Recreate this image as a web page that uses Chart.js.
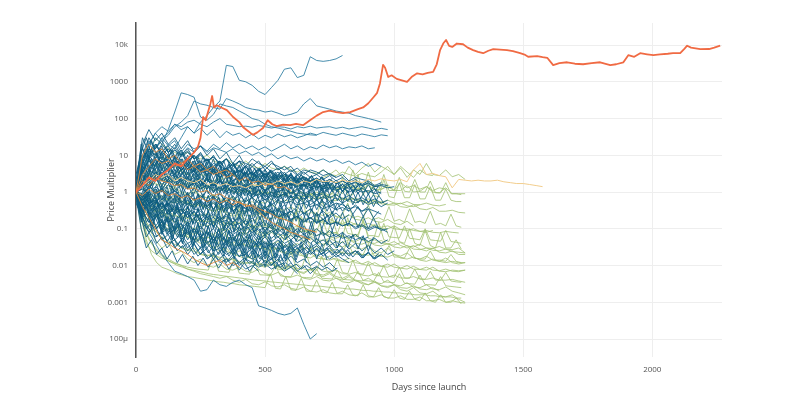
<!DOCTYPE html>
<html lang="en">
<head>
    <meta charset="UTF-8">
    <title>Price Multiplier since launch</title>
    <script src="https://cdn.jsdelivr.net/npm/chart.js@4.4.0/dist/chart.umd.min.js"></script>
    <style>
        * {
            margin: 0;
            padding: 0;
            box-sizing: border-box;
        }

        body {
            background: #fff;
            width: 800px;
            height: 396px;
            overflow: hidden;
        }

        .chart-box {
            width: 800px;
            height: 396px;
        }
    </style>
</head>
<body>
    <div class="chart-box">
        <canvas id="priceChart" width="800" height="396"></canvas>
    </div>

    <script>
        // days between two samples of the coin lines (red line has its own days)
        const STEP_DAYS = 25;
        const FINE_STEP_DAYS = 20;

        const xTicks = [0, 500, 1000, 1500, 2000];
        const yTickValues = [0.0001, 0.001, 0.01, 0.1, 1, 10, 100, 1000, 10000];
        const yTickLabels = ['100μ', '0.001', '0.01', '0.1', '1', '10', '100', '1000', '10k'];

        // the stand-out coin
        const redDays = [0, 25, 50, 75, 100, 125, 150, 175, 200, 225, 240, 250, 260, 270, 279, 288, 295, 302, 313, 330,
            352, 376, 400, 415, 435, 453, 470, 492, 510, 528, 545, 570, 597, 620, 647, 674, 700, 725, 750, 775,
            802, 830, 860, 880, 900, 920, 934, 945, 957, 965, 977, 990, 1010, 1030, 1050, 1070, 1089, 1110, 1130, 1151,
            1165, 1178, 1190, 1201, 1213, 1225, 1243, 1267, 1285, 1306, 1325, 1345, 1365, 1384, 1410, 1437, 1460, 1488, 1505, 1519,
            1554, 1575, 1593, 1616, 1640, 1670, 1700, 1732, 1765, 1798, 1837, 1860, 1888, 1907, 1930, 1953, 1980, 2004, 2030, 2060,
            2080, 2108, 2125, 2135, 2150, 2186, 2220, 2240, 2263];
        const redValues = [1, 1.5, 2.5, 2, 3, 4, 6, 5, 8, 12, 17, 30, 110, 90, 150, 250, 410, 200, 230, 200,
            170, 110, 80, 58, 45, 36, 42, 55, 90, 70, 62, 68, 66, 72, 66, 90, 120, 150, 165, 150,
            140, 150, 180, 200, 260, 380, 500, 900, 2900, 2400, 1350, 1500, 1200, 1100, 1000, 1400, 1700, 1600, 1750, 1850,
            3000, 7300, 11000, 13700, 9500, 8900, 11000, 10500, 8500, 7300, 6500, 6000, 7000, 7700, 7500, 7300, 6800, 6000, 5500, 4800,
            5000, 4700, 4500, 2850, 3200, 3400, 3100, 3000, 3200, 3400, 2850, 3000, 3400, 5300, 4800, 6000, 5600, 5300, 5600, 5800,
            6000, 6000, 8000, 9600, 8500, 7700, 7800, 8500, 9600];

        const yellowValues = [1, 1.5, 2, 3, 2.5, 3, 2, 2.5, 2, 1.8, 2.2, 1.6, 1.8, 1.5, 1.7, 1.4, 1.5, 1.3, 1.6, 1.5,
            1.8, 1.6, 2, 1.7, 1.9, 1.6, 2, 1.8, 2.2, 1.9, 2, 1.8, 2.1, 1.9, 2, 1.8, 2.2, 2, 2.3, 2.1,
            2, 2.2, 1.9, 4, 6, 3, 3.2, 2.8, 2.6, 1.3, 2.2, 2.1, 2, 2.1, 2, 2, 2.1, 1.9, 1.8, 1.7,
            1.7, 1.6, 1.5, 1.4];

        const orangeLines = [
            [1, 0.8, 1.2, 0.9, 1.1, 0.8, 0.9, 0.7, 0.8, 0.6, 0.7, 0.55, 0.65, 0.5, 0.6, 0.45, 0.55, 0.4, 0.45, 0.35, 0.3, 0.25, 0.2, 0.18, 0.15, 0.12, 0.1, 0.09, 0.08],
            [1, 3, 5, 8, 6, 7, 5, 6, 4, 5, 3.5, 4, 3, 3.5, 2.5, 3, 2, 2.5, 1.8, 2, 1.5, 1.7, 1.3, 1.4, 1.1],
            [1, 0.4, 0.2, 0.1, 0.05, 0.04, 0.03, 0.025, 0.02, 0.015, 0.012, 0.01, 0.012, 0.014, 0.01, 0.012, 0.009],
            [1, 2, 1.5, 2.5, 2, 1.8, 1.5, 1.6, 1.2, 1.3, 1, 1.1, 0.8, 0.9, 0.7, 0.6, 0.5, 0.45, 0.4, 0.3, 0.2, 0.15, 0.12, 0.1, 0.08, 0.07, 0.06, 0.05],
            [1, 10, 20, 12, 15, 8, 10, 6, 8, 5, 6, 4, 5, 3.5, 4, 3]
        ];

        // teal coins that climbed far above (or fell far below) the pack
        const tealHighLines = [
            [1, 3, 8, 5, 12, 20, 15, 30, 60, 40, 80, 120, 200, 300, 2800, 2600, 1100, 1000, 800, 550, 450, 700, 1100, 2200, 2400, 1300, 1500, 4800, 3800, 3600, 3800, 4200, 5200],
            [1, 4, 10, 30, 20, 50, 150, 500, 450, 380, 110, 90, 130, 250, 220, 200, 160, 130, 100, 90, 70, 60, 55, 50, 45, 40, 38, 36, 35],
            [1.2, 5, 20, 40, 25, 35, 60, 80, 120, 300, 250, 230, 200, 180, 350, 300, 250, 200, 180, 170, 150, 160, 140, 120, 130, 150, 250, 350, 220, 200, 180, 160, 150, 140, 120, 110, 100, 90, 80],
            [0.8, 3, 10, 15, 30, 40, 70, 60, 80, 90, 70, 60, 80, 100, 70, 65, 60, 62, 58, 65, 60, 55, 60, 58, 52, 60, 56, 62, 55, 58, 60, 54, 58, 52, 56, 60, 55, 50, 54, 50],
            [1, 6, 20, 40, 60, 45, 70, 50, 60, 40, 55, 35, 50, 30, 45, 35, 40, 30, 38, 28, 35, 30, 38, 32, 36, 30, 34, 40, 36, 42, 38, 35, 40, 36, 33, 38, 35, 32, 36, 34],
            [1.5, 8, 25, 15, 30, 18, 25, 12, 20, 15, 18, 12, 16, 14, 12, 15, 11, 13, 10, 12, 9, 11, 8, 10, 8, 9, 7, 8.5, 7, 8, 6.5, 7.5, 6, 7, 5.5, 6.5, 5, 6, 5],
            [1, 2, 5, 8, 12, 9, 14, 10, 16, 12, 18, 13, 20, 15, 22, 16, 20, 15, 18, 14, 17, 13, 16, 20, 15, 18, 14, 17, 15, 19, 16, 18, 15, 17, 16, 18, 15, 16],
            [1, 0.2, 0.08, 0.04, 0.02, 0.012, 0.007, 0.006, 0.005, 0.004, 0.002, 0.0022, 0.004, 0.003, 0.0027, 0.0035, 0.004, 0.003, 0.0025, 0.0008, 0.0007, 0.0006, 0.0005, 0.00045, 0.0005, 0.0007, 0.00025, 0.0001, 0.00014]
        ];

        const tealLines = [
            [1, 6, 12, 8, 15, 10, 14, 9, 12, 8, 10, 7, 9, 6, 8, 5, 7, 6, 5, 7, 4, 6, 5, 4, 5, 3, 4, 3.5, 3, 4, 3, 2.5, 3, 2, 2.5, 2.2, 2],
            [1, 0.6, 0.8, 0.4, 0.5, 0.3, 0.4, 0.25, 0.3, 0.2, 0.25, 0.18, 0.2, 0.15, 0.17, 0.12, 0.14, 0.1, 0.12, 0.09, 0.11, 0.08, 0.1, 0.07, 0.09, 0.06, 0.07, 0.05],
            [1, 2, 1.5, 3, 2, 2.5, 1.8, 2.2, 1.4, 1.8, 1.2, 1.5, 1, 1.3, 0.9, 1.1, 0.8, 1, 0.7, 0.9, 0.6, 0.8, 0.7, 0.9, 0.6, 0.7, 0.5, 0.6, 0.45, 0.55, 0.4, 0.5, 0.45, 0.35, 0.4, 0.3, 0.35, 0.3, 0.25],
            [1, 0.3, 0.15, 0.2, 0.08, 0.1, 0.05, 0.07, 0.04, 0.05, 0.03, 0.04, 0.025, 0.03, 0.02, 0.025, 0.018, 0.02, 0.015, 0.02, 0.012, 0.015, 0.01, 0.012],
            [0.8, 3, 8, 20, 12, 18, 9, 14, 7, 10, 6, 8, 5, 7, 4, 6, 3.5, 5, 3, 4, 2.5, 3.5, 2, 3, 2.5, 2, 1.5, 2, 1.8, 1.4, 1.6, 1.2],
            [1.2, 0.7, 1.5, 0.9, 1.2, 0.6, 0.9, 0.5, 0.8, 0.45, 0.6, 0.4, 0.55, 0.35, 0.5, 0.3, 0.45, 0.35, 0.3, 0.4, 0.25, 0.3, 0.2, 0.28, 0.18, 0.22, 0.15, 0.2, 0.14, 0.18, 0.13, 0.15, 0.12, 0.14, 0.1, 0.12, 0.09, 0.11, 0.1, 0.08],
            [1, 4, 2, 6, 3, 5, 2.5, 4, 2, 3, 1.5, 2.5, 1.2, 2, 1, 1.6, 0.8, 1.3, 0.7, 1.1, 0.6, 0.9, 0.5],
            [1, 0.5, 0.25, 0.35, 0.15, 0.2, 0.1, 0.14, 0.08, 0.1, 0.06, 0.08, 0.05, 0.07, 0.04, 0.06, 0.035, 0.05, 0.03, 0.045, 0.03, 0.04, 0.025, 0.035, 0.02, 0.03, 0.02, 0.025, 0.018, 0.022, 0.015, 0.02, 0.015, 0.012],
            [1.5, 10, 30, 15, 25, 12, 20, 10, 15, 8, 12, 6, 10, 5, 8, 4, 7, 3, 5, 3, 4, 2.5, 3.5, 2, 3, 1.8, 2.5, 1.5, 2, 1.2, 1.6],
            [1, 1.5, 0.8, 1.2, 0.6, 1, 0.5, 0.8, 0.45, 0.7, 0.4, 0.6, 0.35, 0.55, 0.3, 0.5, 0.28, 0.4, 0.25, 0.35, 0.22, 0.3, 0.2, 0.25, 0.18, 0.22, 0.16, 0.2, 0.15, 0.18, 0.13, 0.15, 0.12, 0.14, 0.11, 0.13, 0.1, 0.12, 0.09, 0.1],
            [1, 0.2, 0.1, 0.06, 0.08, 0.04, 0.05, 0.03, 0.04, 0.02, 0.03, 0.015, 0.02, 0.012, 0.015, 0.01, 0.012, 0.008, 0.01, 0.007],
            [1, 3, 5, 4, 8, 5, 6, 4, 5, 3, 4, 3, 3.5, 2.5, 3, 2, 2.5, 2, 2.2, 1.8, 2, 1.6, 1.8, 1.5, 1.7, 1.4, 1.6, 1.3, 1.5, 1.2, 1.4, 1.1, 1.3, 1, 1.2, 1, 1.1, 0.9, 1],
            [0.7, 0.4, 0.6, 0.3, 0.5, 0.25, 0.4, 0.3, 0.5, 0.35, 0.6, 0.4, 0.7, 0.45, 0.6, 0.4, 0.5, 0.35, 0.45, 0.3, 0.4, 0.28, 0.35, 0.25, 0.3],
            [1, 2, 4, 3, 7, 5, 9, 6, 8, 5, 7, 4, 6, 5, 4, 6, 3.5, 5, 3, 4, 3, 3.5, 2.5, 3, 2.8, 2.2, 2.6, 2, 2.4, 1.8, 2.2, 1.7, 2, 1.6, 1.8, 1.5, 1.7, 1.4, 1.5, 1.3, 1.4],
            [1, 0.9, 0.5, 0.7, 0.35, 0.5, 0.25, 0.35, 0.2, 0.3, 0.15, 0.22, 0.12, 0.18, 0.1, 0.15, 0.09, 0.12, 0.08, 0.1, 0.07, 0.09, 0.06, 0.08, 0.05, 0.07, 0.045, 0.06, 0.04, 0.05, 0.035, 0.045, 0.03],
            [2, 20, 50, 25, 40, 20, 30, 15, 25, 12, 18, 10, 15, 8, 12, 6, 10, 5, 8, 6, 5, 7, 4, 5, 3.5, 4.5, 3, 4, 3.5, 2.8, 3.2, 2.5],
            [1, 0.6, 1, 0.7, 1.2, 0.8, 1.1, 0.7, 0.9, 0.6, 0.8, 0.55, 0.75, 0.5, 0.7, 0.6, 0.8, 0.55, 0.7, 0.5, 0.65, 0.45, 0.6, 0.5, 0.55, 0.45, 0.5, 0.4, 0.45, 0.35, 0.42, 0.33, 0.38, 0.3],
            [1, 0.15, 0.08, 0.12, 0.05, 0.07, 0.03, 0.05, 0.025, 0.04, 0.02, 0.03, 0.015, 0.025, 0.012, 0.02, 0.01, 0.015, 0.012, 0.009, 0.011, 0.008, 0.01, 0.007, 0.009, 0.006],
            [1, 2, 3, 2, 4, 2.5, 3, 2, 2.5, 1.5, 2, 1.2, 1.8, 1, 1.5, 0.9, 1.3, 0.8, 1.1, 0.7, 1, 0.6, 0.9, 0.55, 0.8, 0.5, 0.7, 0.45, 0.6, 0.4, 0.55, 0.35, 0.5, 0.3, 0.45, 0.3, 0.4],
            [1.2, 5, 3, 8, 4, 6, 3, 5, 2.5, 4, 2, 3, 1.5, 2.5, 1.2, 2, 1, 1.5, 0.8, 1.2, 0.7, 1, 0.6, 0.8],
            [0.9, 0.45, 0.7, 0.35, 0.55, 0.3, 0.45, 0.25, 0.4, 0.22, 0.35, 0.2, 0.3, 0.18, 0.25, 0.15, 0.22, 0.13, 0.2, 0.12, 0.17, 0.1, 0.15, 0.09, 0.13, 0.08, 0.12, 0.07, 0.1, 0.065, 0.09, 0.06, 0.08, 0.055, 0.07, 0.05, 0.06],
            [1, 1.8, 1.2, 2.5, 1.6, 2.2, 1.5, 2, 1.3, 1.8, 1.2, 1.6, 1.1, 1.4, 1, 1.3, 0.9, 1.2, 0.85, 1.1, 0.8, 1, 0.75, 0.9, 0.7, 0.85, 0.65, 0.8, 0.6, 0.75, 0.55, 0.7, 0.5, 0.65, 0.5, 0.6, 0.45, 0.55, 0.4, 0.5],
            [1, 0.5, 0.3, 0.4, 0.2, 0.3, 0.15, 0.25, 0.12, 0.2, 0.1, 0.15, 0.12, 0.08, 0.1, 0.07, 0.09, 0.06, 0.08, 0.05, 0.07, 0.045, 0.06, 0.04, 0.05, 0.035, 0.045, 0.03, 0.04, 0.025, 0.035, 0.022, 0.03, 0.02, 0.025, 0.018, 0.022, 0.016, 0.02],
            [1, 8, 15, 10, 20, 12, 16, 10, 13, 8, 11, 7, 9, 6, 8, 5, 7, 4.5, 6, 4, 5, 3.5, 4.5, 3, 4, 2.8, 3.5, 2.5, 3, 2.2, 2.8, 2, 2.5, 1.8, 2.2, 1.6, 2, 1.5, 1.8],
            [1, 0.8, 0.5, 0.6, 0.4, 0.5, 0.3, 0.4, 0.25, 0.35, 0.3, 0.2, 0.25, 0.18, 0.22, 0.15, 0.2, 0.13, 0.17],
            [1, 3, 1.5, 2.5, 1.2, 2, 1, 1.6, 0.8, 1.3, 0.7, 1.1, 0.6, 0.9, 0.5, 0.8, 0.45, 0.7, 0.4, 0.6, 0.35, 0.5, 0.3, 0.45, 0.28, 0.4, 0.25, 0.35, 0.22, 0.3, 0.2, 0.27, 0.18, 0.24],
            [1, 0.3, 0.5, 0.2, 0.3, 0.15, 0.2, 0.1, 0.15, 0.08, 0.12, 0.07, 0.1, 0.06, 0.09, 0.05, 0.08, 0.045, 0.07, 0.04, 0.06, 0.035, 0.05, 0.03, 0.045, 0.028, 0.04, 0.025, 0.035, 0.022, 0.03, 0.02, 0.028, 0.018, 0.025, 0.016, 0.022, 0.015, 0.02, 0.014],
            [1, 5, 10, 6, 9, 5, 7, 4, 6, 3.5, 5, 3, 4, 2.5, 3.5, 2, 3, 1.8, 2.5, 1.6, 2.2, 1.4, 2, 1.3, 1.8, 1.2, 1.6, 1.1, 1.4, 1, 1.3],
            [1, 1.2, 0.9, 1.4, 1, 1.6, 1.1, 1.8, 1.2, 2, 1.4, 2.2, 1.5, 2, 1.4, 1.8, 1.3, 1.6, 1.2, 1.5, 1.1, 1.4, 1, 1.2, 0.9, 1.1, 0.8, 1, 0.75, 0.9, 0.7, 0.85, 0.65, 0.8, 0.6, 0.7, 0.55, 0.65, 0.5, 0.6],
            [0.5, 0.2, 0.3, 0.12, 0.18, 0.08, 0.12, 0.06, 0.09, 0.05, 0.07, 0.04, 0.06, 0.03, 0.05, 0.025, 0.04, 0.02, 0.03, 0.018, 0.025, 0.015, 0.02, 0.013, 0.018, 0.012, 0.015, 0.01, 0.013, 0.009, 0.012, 0.008],
            [1, 2.5, 1.8, 3.5, 2.2, 3, 2, 2.8, 1.8, 2.5, 1.6, 2.2, 1.5, 2, 1.4, 1.8, 1.3, 1.7, 1.2, 1.5, 1.1, 1.4, 1, 1.3, 0.95, 1.2, 0.9, 1.1, 0.85, 1],
            [1, 0.7, 0.4, 0.55, 0.3, 0.45, 0.25, 0.35, 0.2, 0.3, 0.18, 0.25, 0.15, 0.22, 0.13, 0.2, 0.12, 0.17, 0.1, 0.15, 0.09, 0.13, 0.08, 0.11, 0.075, 0.1, 0.07, 0.09, 0.065, 0.08, 0.06, 0.07, 0.055, 0.065, 0.05, 0.06, 0.045, 0.055, 0.04, 0.05],
            [3, 15, 8, 12, 6, 10, 5, 8, 4, 7, 3.5, 6, 3, 5, 2.5, 4, 2.2, 3.5, 2, 3, 1.8, 2.6, 1.6, 2.3, 1.5, 2, 1.4, 1.8, 1.3, 1.6, 1.2, 1.5, 1.1, 1.4, 1, 1.3, 0.95, 1.2, 0.9],
            [1, 0.4, 0.2, 0.1, 0.15, 0.07, 0.1, 0.05, 0.08, 0.04, 0.06, 0.03, 0.05, 0.025, 0.04, 0.02, 0.03, 0.015, 0.025, 0.012, 0.02, 0.01, 0.015, 0.008, 0.012, 0.007, 0.01, 0.006, 0.009],
            [1, 1.5, 2.5, 2, 3.5, 2.5, 4, 3, 5, 3.5, 6, 4, 5, 3.5, 4.5, 3, 4, 2.8, 3.5, 2.5, 3.2, 2.3, 3, 2.2, 2.8, 2, 2.6, 1.9, 2.4, 1.8, 2.2, 1.7, 2, 1.6, 1.9, 1.5, 1.8, 1.4, 1.6, 1.5],
            [0.8, 0.3, 0.15, 0.25, 0.12, 0.18, 0.09, 0.14, 0.07, 0.1, 0.06, 0.09, 0.05, 0.08, 0.045, 0.07, 0.04, 0.06, 0.05, 0.035, 0.045, 0.03, 0.04, 0.025, 0.035, 0.022, 0.03, 0.02, 0.028, 0.018, 0.025, 0.017, 0.022, 0.015],
            [1, 4, 7, 5, 10, 6, 8, 5, 7, 4, 6, 3.5, 5, 3, 4.5, 2.8, 4, 2.5, 3.5, 2.2, 3, 2, 2.8, 1.8, 2.5, 1.7, 2.2, 1.5, 2, 1.4, 1.8, 1.3, 1.6, 1.2, 1.5],
            [1, 0.6, 0.9, 0.5, 0.8, 0.45, 0.7, 0.4, 0.6, 0.38, 0.55, 0.35, 0.5, 0.32, 0.45, 0.3, 0.42, 0.28, 0.4, 0.26, 0.36, 0.24, 0.33, 0.22, 0.3, 0.2, 0.28, 0.19, 0.26, 0.18, 0.24],
            [2, 30, 12, 20, 10, 15, 8, 12, 6, 10, 5, 8, 4, 7, 3.5, 6, 3, 5, 2.8, 4.5, 2.5, 4, 2.2, 3.5, 2, 3, 1.8, 2.6, 1.6, 2.3, 1.5, 2.1, 1.4, 1.9, 1.3, 1.7],
            [1, 0.5, 0.7, 0.35, 0.5, 0.25, 0.35, 0.18, 0.25, 0.14, 0.2, 0.11, 0.16, 0.09, 0.13, 0.08, 0.11, 0.07, 0.1, 0.06, 0.09, 0.055, 0.08, 0.05, 0.07, 0.045, 0.06, 0.04, 0.055, 0.035, 0.05, 0.03, 0.045, 0.028, 0.04, 0.025, 0.035, 0.022, 0.03, 0.02, 0.025]
        ];

        // noisier teal coins, sampled every FINE_STEP_DAYS
        const tealNoisyLines = [
            [1, 4, 1.5, 6, 2, 5, 1.8, 4, 1.5, 3.5, 1.2, 3, 1, 2.5, 0.9, 2.2, 0.8, 2, 0.7, 1.8, 0.6, 1.6, 0.55, 1.4, 0.5, 1.2, 0.45, 1.1, 0.4, 1, 0.4, 0.9, 0.35, 0.8, 0.3, 0.7, 0.3, 0.6, 0.25, 0.5, 0.3, 0.45, 0.25, 0.4, 0.22, 0.35, 0.2, 0.3],
            [1, 0.3, 0.8, 0.2, 0.6, 0.15, 0.5, 0.12, 0.4, 0.1, 0.3, 0.08, 0.25, 0.07, 0.2, 0.06, 0.18, 0.05, 0.15, 0.045, 0.12, 0.04, 0.1, 0.035, 0.09, 0.03, 0.08],
            [1, 10, 4, 15, 6, 12, 5, 10, 4, 8, 3, 7, 2.5, 6, 2, 5, 1.8, 4.5, 1.5, 4, 1.3, 3.5, 1.2, 3, 1, 2.5, 0.9, 2.2, 0.8, 2, 0.7, 1.8, 0.65, 1.6, 0.6, 1.5, 0.55, 1.3, 0.5, 1.2, 0.5, 1.1, 0.45, 1, 0.45, 0.9, 0.4, 0.8, 0.5],
            [1, 2, 0.6, 1.8, 0.5, 1.5, 0.45, 1.3, 0.4, 1.2, 0.35, 1, 0.3, 0.9, 0.28, 0.8, 0.25, 0.7, 0.22, 0.6, 0.2, 0.55, 0.18, 0.5, 0.17, 0.45, 0.15, 0.4, 0.14, 0.38, 0.13, 0.35, 0.12, 0.3, 0.11, 0.28, 0.1, 0.25, 0.09, 0.2],
            [0.6, 0.2, 0.5, 0.1, 0.3, 0.08, 0.2, 0.05, 0.15, 0.04, 0.12, 0.03, 0.1, 0.025, 0.08, 0.02, 0.06, 0.018, 0.05, 0.015, 0.04, 0.012, 0.035, 0.01, 0.03, 0.009, 0.025, 0.008, 0.02, 0.008],
            [1, 20, 8, 25, 10, 18, 7, 14, 6, 12, 5, 10, 4, 9, 3.5, 8, 3, 7, 2.8, 6, 2.5, 5, 2.2, 4.5, 2, 4, 1.8, 3.5, 1.6, 3, 1.5, 2.8, 1.4, 2.5, 1.3, 2.2, 1.2, 2, 1.1, 1.8, 1, 1.6, 1, 1.5],
            [1, 1.5, 3, 1.2, 2.5, 1, 2.2, 0.9, 2, 0.8, 1.8, 0.75, 1.6, 0.7, 1.5, 0.65, 1.4, 0.6, 1.3, 0.55, 1.2, 0.5, 1.1, 0.48, 1, 0.45, 0.9, 0.42, 0.85, 0.4, 0.8, 0.38, 0.75, 0.35, 0.7, 0.33, 0.65, 0.3, 0.6, 0.3],
            [1, 0.5, 1.2, 0.4, 1, 0.35, 0.9, 0.3, 0.8, 0.28, 0.7, 0.25, 0.65, 0.22, 0.6, 0.2, 0.55, 0.18, 0.5, 0.17, 0.45, 0.15, 0.4, 0.14, 0.38, 0.12, 0.35, 0.11, 0.3, 0.1, 0.28],
            [1.5, 5, 12, 5, 10, 4, 8, 3.5, 7, 3, 6, 2.8, 5.5, 2.5, 5, 2.2, 4.5, 2, 4, 1.9, 3.8, 1.8, 3.5, 1.7, 3.2, 1.6, 3, 1.5, 2.8, 1.4, 2.6, 1.3, 2.4, 1.2, 2.2, 1.1, 2, 1, 1.8, 1, 1.7, 0.95, 1.6, 0.9, 1.5, 0.85, 1.4, 0.8],
            [1, 0.25, 0.6, 0.15, 0.4, 0.1, 0.3, 0.08, 0.22, 0.06, 0.18, 0.05, 0.15, 0.04, 0.12, 0.035, 0.1, 0.03, 0.09, 0.025, 0.08, 0.022, 0.07, 0.02, 0.06, 0.018, 0.05, 0.016, 0.045, 0.015, 0.04, 0.014, 0.035, 0.012],
            [1, 3, 8, 3, 7, 2.5, 6, 2.2, 5, 2, 4.5, 1.8, 4, 1.6, 3.5, 1.5, 3.2, 1.4, 3, 1.3, 2.8, 1.2, 2.6, 1.1, 2.4, 1, 2.2, 0.95, 2, 0.9],
            [1, 0.8, 2, 0.7, 1.6, 0.6, 1.4, 0.5, 1.2, 0.45, 1, 0.4, 0.9, 0.35, 0.8, 0.3, 0.7, 0.28, 0.65, 0.25, 0.6, 0.22, 0.55, 0.2, 0.5, 0.19, 0.45, 0.18, 0.42, 0.17, 0.4, 0.16, 0.38, 0.15, 0.35, 0.14, 0.33, 0.13, 0.3, 0.12, 0.28, 0.12, 0.25, 0.11, 0.22, 0.1, 0.2, 0.1],
            [1, 6, 15, 6, 12, 5, 10, 4.5, 9, 4, 8, 3.5, 7, 3.2, 6.5, 3, 6, 2.8, 5.5, 2.6, 5, 2.4, 4.6, 2.2, 4.2, 2, 3.8, 1.9, 3.5, 1.8, 3.2, 1.7, 3, 1.6, 2.8, 1.5, 2.6, 1.4],
            [1, 0.4, 1, 0.3, 0.7, 0.25, 0.6, 0.2, 0.5, 0.16, 0.4, 0.14, 0.35, 0.12, 0.3, 0.1, 0.25, 0.09, 0.22, 0.08, 0.2, 0.07, 0.18, 0.065, 0.16, 0.06, 0.15, 0.055, 0.14, 0.05, 0.13, 0.045, 0.12, 0.04, 0.11, 0.038, 0.1, 0.035, 0.09, 0.03, 0.08, 0.03, 0.07, 0.028, 0.065, 0.025, 0.06],
            [1, 2.5, 6, 2.5, 5, 2, 4.5, 1.8, 4, 1.6, 3.5, 1.5, 3.2, 1.4, 3, 1.3, 2.8, 1.2, 2.6, 1.1, 2.4, 1, 2.2, 0.95, 2, 0.9, 1.9, 0.85, 1.8, 0.8, 1.7, 0.75, 1.6, 0.7, 1.5, 0.7, 1.4, 0.65],
            [0.8, 0.15, 0.4, 0.1, 0.25, 0.07, 0.18, 0.05, 0.14, 0.04, 0.11, 0.035, 0.09, 0.03, 0.08, 0.025, 0.07, 0.022, 0.06, 0.02, 0.055, 0.018, 0.05, 0.016, 0.045, 0.015, 0.04, 0.014, 0.035, 0.013, 0.032, 0.012],
            [1, 12, 30, 10, 20, 8, 15, 6, 12, 5, 10, 4.5, 9, 4, 8, 3.5, 7, 3.2, 6, 3, 5.5, 2.8, 5, 2.6, 4.5, 2.4, 4, 2.2, 3.6, 2, 3.3, 1.9, 3, 1.8, 2.8, 1.7, 2.6, 1.6, 2.4],
            [1, 0.6, 1.5, 0.5, 1.2, 0.45, 1.1, 0.4, 1, 0.38, 0.9, 0.35, 0.85, 0.33, 0.8, 0.3, 0.75, 0.28, 0.7, 0.26, 0.65, 0.25, 0.6, 0.24, 0.58, 0.22, 0.55, 0.21, 0.52, 0.2],
            [1, 1.2, 4, 1.5, 3.5, 1.4, 3, 1.3, 2.8, 1.2, 2.6, 1.1, 2.4, 1, 2.2, 0.95, 2, 0.9, 1.9, 0.85, 1.8, 0.8, 1.7, 0.78, 1.6, 0.75, 1.5, 0.72, 1.45, 0.7, 1.4, 0.68, 1.35, 0.65, 1.3, 0.62, 1.25, 0.6, 1.2, 0.58, 1.1, 0.55, 1, 0.5, 0.9, 0.5, 0.85, 0.45],
            [1, 0.35, 0.9, 0.25, 0.6, 0.2, 0.5, 0.17, 0.45, 0.15, 0.4, 0.13, 0.35, 0.12, 0.32, 0.11, 0.3, 0.1, 0.28, 0.09, 0.26, 0.085, 0.24, 0.08, 0.22, 0.075, 0.2, 0.07, 0.19, 0.065, 0.18, 0.06, 0.17, 0.055, 0.16, 0.05],
            [1, 5, 2, 8, 3, 7, 2.8, 6, 2.5, 5.5, 2.2, 5, 2, 4.5, 1.9, 4.2, 1.8, 4, 1.7, 3.8, 1.6, 3.6, 1.5, 3.4, 1.4, 3.2, 1.3, 3, 1.25, 2.8, 1.2, 2.6, 1.15, 2.4, 1.1, 2.2, 1.05, 2, 1, 1.9, 1, 1.8, 0.95, 1.7, 0.9, 1.6, 0.9, 1.5],
            [1, 0.2, 0.5, 0.12, 0.3, 0.09, 0.22, 0.07, 0.18, 0.06, 0.15, 0.05, 0.13, 0.045, 0.12, 0.04, 0.1, 0.035, 0.09, 0.03, 0.08, 0.028, 0.07, 0.025, 0.065, 0.022, 0.06, 0.02, 0.055, 0.018, 0.05, 0.017, 0.045, 0.016, 0.04, 0.015, 0.038, 0.014],
            [1, 0.2, 0.06, 0.1, 0.04, 0.06, 0.03, 0.045, 0.025, 0.035, 0.02, 0.03, 0.018, 0.025, 0.016, 0.022, 0.014, 0.02, 0.013, 0.018, 0.012, 0.016, 0.011, 0.015, 0.01, 0.014, 0.01, 0.013, 0.009, 0.012, 0.009, 0.011, 0.008, 0.01, 0.008, 0.0095, 0.0075, 0.009, 0.007, 0.0085],
            [1, 0.3, 0.1, 0.15, 0.06, 0.09, 0.045, 0.07, 0.035, 0.055, 0.03, 0.045, 0.025, 0.04, 0.022, 0.035, 0.02, 0.032, 0.018, 0.03, 0.017, 0.028, 0.016, 0.026, 0.015, 0.024, 0.014, 0.022, 0.013, 0.02, 0.012],
            [1, 0.5, 0.15, 0.25, 0.1, 0.16, 0.07, 0.12, 0.06, 0.1, 0.05, 0.085, 0.045, 0.075, 0.04, 0.065, 0.035, 0.06, 0.032, 0.055, 0.03, 0.05, 0.028, 0.045, 0.026, 0.042, 0.025, 0.04, 0.024, 0.038, 0.023, 0.035, 0.022, 0.033, 0.021, 0.03, 0.02, 0.03, 0.019, 0.028, 0.018, 0.027, 0.017, 0.025, 0.016, 0.024, 0.015, 0.022],
            [0.8, 0.1, 0.03, 0.05, 0.02, 0.03, 0.015, 0.025, 0.012, 0.02, 0.011, 0.018, 0.01, 0.016, 0.009, 0.015, 0.0085, 0.014, 0.008, 0.013, 0.0075, 0.012, 0.007, 0.011]
        ];

        const greenLines = [
            [1, 0.4, 0.25, 0.3, 0.15, 0.12, 0.08, 0.1, 0.06, 0.05, 0.04, 0.045, 0.03, 0.025, 0.03, 0.02, 0.018, 0.015, 0.02, 0.012, 0.01, 0.012, 0.009, 0.008, 0.01, 0.007, 0.006, 0.008, 0.0055, 0.005, 0.006, 0.0045, 0.004, 0.005, 0.0038, 0.0035, 0.003, 0.0038, 0.0028, 0.0025, 0.003, 0.0022, 0.002, 0.0025, 0.0018, 0.0017, 0.002, 0.0015, 0.0014, 0.0016, 0.0012, 0.001],
            [1, 2, 1.5, 1, 1.2, 0.8, 0.6, 0.7, 0.5, 0.45, 0.5, 0.35, 0.3, 0.35, 0.25, 0.22, 0.25, 0.18, 0.16, 0.2, 0.14, 0.12, 0.15, 0.11, 0.1, 0.12, 0.09, 0.08, 0.1, 0.075, 0.07, 0.08, 0.06, 0.055, 0.07, 0.05, 0.045, 0.05, 0.04, 0.038, 0.045, 0.035, 0.03, 0.035, 0.028, 0.025, 0.03, 0.023, 0.022, 0.025, 0.02, 0.02],
            [1, 4, 8, 5, 6, 4, 3, 4, 3, 2.5, 3, 2.2, 2, 2.5, 1.8, 1.6, 2, 1.5, 1.4, 1.6, 1.3, 1.2, 1.5, 1.1, 1, 1.2, 0.9, 0.85, 1, 0.8, 0.7, 0.85, 0.65, 0.6, 0.7, 0.55, 0.5, 0.6, 0.48, 0.45, 0.5, 0.4, 0.38, 0.45, 0.35, 0.33, 0.38, 0.3, 0.3, 0.32, 0.28, 0.27],
            [1, 0.6, 0.3, 0.2, 0.25, 0.15, 0.1, 0.12, 0.08, 0.07, 0.09, 0.06, 0.05, 0.06, 0.045, 0.04, 0.05, 0.035, 0.03, 0.04, 0.028, 0.025, 0.03, 0.022, 0.02, 0.025, 0.018, 0.016, 0.02, 0.015, 0.014, 0.016, 0.013, 0.012, 0.014, 0.011, 0.01, 0.012, 0.0095, 0.009, 0.011, 0.0085, 0.008, 0.0095, 0.0078, 0.0075, 0.009, 0.007, 0.0068, 0.0075, 0.0072, 0.0075],
            [1, 3, 10, 30, 20, 15, 12, 10, 12, 9, 8, 10, 7, 6, 8, 6, 5, 7, 5, 4.5, 6, 4.5, 4, 5, 4, 3.5, 4.5, 3.5, 3.2, 4, 3, 2.8, 3.5, 3, 2.7, 3.2, 2.8, 2.6, 3.5, 5, 3, 4.5, 2.5, 4, 3, 6, 3, 2.8, 4, 2.6, 3, 2.2],
            [1, 0.8, 0.5, 0.6, 0.4, 0.3, 0.35, 0.25, 0.2, 0.25, 0.18, 0.15, 0.18, 0.13, 0.12, 0.14, 0.1, 0.09, 0.11, 0.08, 0.075, 0.09, 0.07, 0.065, 0.075, 0.06, 0.055, 0.065, 0.05, 0.048, 0.055, 0.045, 0.042, 0.05, 0.04, 0.038, 0.045, 0.036, 0.034, 0.04, 0.032, 0.03, 0.035, 0.028, 0.027, 0.03, 0.026, 0.025, 0.028, 0.024, 0.023, 0.022],
            [1, 1.5, 0.8, 1, 0.7, 0.6, 0.8, 0.55, 0.5, 0.6, 0.45, 0.4, 0.5, 0.38, 0.35, 0.4, 0.3, 0.28, 0.35, 0.26, 0.25, 0.3, 0.22, 0.2, 0.25, 0.19, 0.18, 0.2, 0.17, 0.16, 0.18, 0.15, 0.14, 0.16, 0.13, 0.12, 0.14, 0.12, 0.11, 0.12, 0.1, 0.095, 0.1, 0.09, 0.085, 0.09, 0.08, 0.078, 0.085, 0.08, 0.077],
            [1, 0.3, 0.1, 0.05, 0.03, 0.04, 0.02, 0.025, 0.015, 0.012, 0.015, 0.01, 0.009, 0.011, 0.008, 0.0075, 0.009, 0.007, 0.0065, 0.008, 0.006, 0.0055, 0.0065, 0.005, 0.0048, 0.0055, 0.0045, 0.0042, 0.005, 0.004, 0.0038, 0.0045, 0.0036, 0.0034, 0.004, 0.0032, 0.003, 0.0035, 0.0028, 0.0027, 0.003, 0.0025, 0.0024, 0.0028, 0.0023, 0.0022, 0.0025, 0.002],
            [1, 2, 3, 2.5, 2, 2.2, 1.7, 1.5, 1.8, 1.4, 1.3, 1.5, 1.2, 1.1, 1.3, 1, 0.95, 1.1, 0.9, 0.85, 1, 0.8, 0.75, 0.9, 0.72, 0.7, 0.8, 0.68, 0.65, 0.75, 0.6, 0.58, 0.7, 0.55, 0.52, 0.6, 0.5, 0.48, 0.55, 0.45, 0.44, 0.5, 0.42, 0.4, 0.45],
            [1, 0.7, 0.4, 0.3, 0.35, 0.2, 0.15, 0.18, 0.12, 0.1, 0.12, 0.08, 0.07, 0.09, 0.06, 0.055, 0.07, 0.05, 0.045, 0.055, 0.04, 0.038, 0.045, 0.035, 0.032, 0.04, 0.03, 0.028, 0.033, 0.026, 0.025, 0.028, 0.022, 0.021, 0.025, 0.02, 0.019, 0.022, 0.018, 0.017, 0.02, 0.016, 0.015, 0.017, 0.014, 0.013, 0.015, 0.013, 0.012, 0.013, 0.012, 0.012],
            [1, 0.9, 0.6, 0.5, 0.3, 0.2, 0.15, 0.1, 0.07, 0.05, 0.06, 0.04, 0.03, 0.035, 0.025, 0.02, 0.025, 0.018, 0.015, 0.018, 0.013, 0.012, 0.014, 0.01, 0.009, 0.011, 0.008, 0.0075, 0.009, 0.007, 0.0065, 0.0075, 0.006, 0.0058, 0.0065, 0.0055, 0.0052, 0.006, 0.005, 0.0048, 0.0055, 0.0046, 0.0045, 0.005, 0.0043, 0.0042, 0.0046, 0.004, 0.004, 0.0042, 0.0038, 0.0035],
            [1, 5, 3, 4, 2.5, 2, 2.5, 1.8, 1.6, 2, 1.5, 1.4, 1.6, 1.3, 1.2, 1.4, 1.1, 1, 1.2, 0.95, 0.9, 1, 0.85, 0.8, 0.95, 0.8, 0.75, 0.85, 0.7, 0.68, 0.75, 0.65, 0.62, 0.7, 0.6, 0.58, 0.65, 0.55, 0.52, 0.6, 0.5, 0.48, 0.55, 0.46, 0.45, 0.5, 0.44, 0.42, 0.46],
            [1, 0.5, 0.35, 0.4, 0.25, 0.2, 0.25, 0.18, 0.15, 0.18, 0.13, 0.12, 0.14, 0.1, 0.09, 0.11, 0.08, 0.075, 0.09, 0.07, 0.065, 0.08, 0.06, 0.055, 0.065, 0.05, 0.045, 0.055, 0.04, 0.038, 0.045, 0.035, 0.032, 0.04, 0.03, 0.028, 0.035, 0.025, 0.022, 0.03, 0.02, 0.018, 0.022, 0.016, 0.015, 0.018, 0.014, 0.013, 0.016, 0.012, 0.011, 0.012],
            [1, 2, 4, 6, 5, 4, 5, 3.5, 3, 4, 3, 2.8, 3.5, 2.5, 2.3, 3, 2.2, 2, 2.6, 1.9, 1.8, 2.3, 1.7, 1.6, 2, 1.5, 1.5, 1.8, 1.4, 1.4, 1.7, 1.3, 1.3, 1.6, 1.25, 1.2, 1.5, 1.2, 1.15, 1.6, 1.1, 1.1, 1.5, 1, 1.05, 1.4, 1, 0.95, 1.3, 0.9, 0.9, 0.9],
            [1, 0.2, 0.08, 0.1, 0.05, 0.04, 0.05, 0.03, 0.025, 0.03, 0.02, 0.018, 0.022, 0.015, 0.013, 0.016, 0.012, 0.011, 0.013, 0.01, 0.009, 0.011, 0.008, 0.0075, 0.009, 0.007, 0.0065, 0.008, 0.006, 0.0055, 0.0065, 0.005, 0.0045, 0.0055, 0.004, 0.0038, 0.0045, 0.0035, 0.0032, 0.004, 0.003, 0.0028, 0.0034, 0.0026, 0.0025, 0.003, 0.0023, 0.0022, 0.0026, 0.002, 0.0018, 0.0016],
            [1, 1.2, 0.9, 0.7, 0.8, 0.6, 0.5, 0.6, 0.45, 0.4, 0.45, 0.35, 0.3, 0.35, 0.28, 0.25, 0.3, 0.23, 0.22, 0.26, 0.2, 0.19, 0.22, 0.18, 0.17, 0.2, 0.16, 0.15, 0.18, 0.14, 0.14, 0.16, 0.13, 0.12, 0.14, 0.12, 0.11, 0.13, 0.1, 0.1, 0.12, 0.095, 0.09, 0.1, 0.085, 0.08, 0.09],
            [1, 0.15, 0.05, 0.03, 0.02, 0.015, 0.012, 0.01, 0.008, 0.007, 0.006, 0.0055, 0.005, 0.0045, 0.005, 0.004, 0.0035, 0.0042, 0.0032, 0.003, 0.0036, 0.0028, 0.0026, 0.003, 0.0024, 0.0022, 0.0026, 0.002, 0.0019, 0.0022, 0.0018, 0.0017, 0.002, 0.0016, 0.0015, 0.0018, 0.0014, 0.0014, 0.0016, 0.0013, 0.0013, 0.0015, 0.0012, 0.0012, 0.0014, 0.0011, 0.0011, 0.0012, 0.001, 0.0011, 0.001, 0.00095],
            [1, 3, 2, 2.5, 1.5, 1.2, 1.4, 1, 0.9, 1.1, 0.8, 0.7, 0.85, 0.6, 0.55, 0.7, 0.5, 0.45, 0.55, 0.4, 0.38, 0.45, 0.35, 0.32, 0.4, 0.3, 0.28, 0.33, 0.25, 0.23, 0.28, 0.21, 0.2, 0.24, 0.18, 0.17, 0.2, 0.16, 0.15, 0.18, 0.14, 0.13, 0.16, 0.12],
            [1, 0.6, 0.8, 0.5, 0.4, 0.5, 0.35, 0.3, 0.35, 0.25, 0.22, 0.26, 0.2, 0.18, 0.2, 0.15, 0.14, 0.16, 0.12, 0.11, 0.13, 0.1, 0.09, 0.11, 0.08, 0.075, 0.09, 0.07, 0.065, 0.075, 0.06, 0.055, 0.065, 0.05, 0.045, 0.055, 0.042, 0.04, 0.048, 0.038, 0.036, 0.042, 0.034, 0.032, 0.038, 0.03, 0.029, 0.033, 0.028, 0.027, 0.03, 0.022],
            [1, 2, 1.4, 1.8, 1.2, 1, 1.3, 0.9, 0.8, 1, 0.75, 0.7, 0.85, 0.65, 0.6, 0.75, 0.58, 0.55, 0.7, 0.52, 0.5, 0.65, 0.5, 0.6, 0.55, 0.7, 0.6, 0.9, 0.7, 1, 0.8, 1.2, 0.9, 1.5, 1.1, 1.3, 1, 1.6, 1.2, 1.4, 1.1, 1.8, 1.3, 1.5, 1.2, 1.4, 1.1, 1.3, 1.2],
            [1, 0.4, 0.2, 0.25, 0.12, 0.1, 0.12, 0.08, 0.07, 0.09, 0.06, 0.055, 0.07, 0.05, 0.045, 0.055, 0.04, 0.035, 0.045, 0.03, 0.028, 0.035, 0.025, 0.022, 0.028, 0.02, 0.018, 0.022, 0.016, 0.015, 0.018, 0.014, 0.013, 0.016, 0.012, 0.011, 0.013, 0.01, 0.0095, 0.011, 0.009, 0.0085, 0.01, 0.008, 0.0078, 0.009, 0.0075, 0.0072, 0.008, 0.007, 0.0068, 0.0075],
            [1, 8, 15, 10, 8, 9, 6, 5, 6, 4.5, 4, 5, 3.5, 3.2, 4, 3, 2.8, 3.4, 2.6, 2.5, 3, 2.4, 2.3, 2.8, 2.2, 2.1, 2.6, 2, 2, 2.5, 3, 4, 2.5, 5, 3, 4.5, 6, 3.5, 5, 4, 3, 5, 3.5, 2.5, 4, 3, 2.8]
        ];

        // green coins with big one-day jumps, sampled every FINE_STEP_DAYS
        const greenSpikeLines = [
            [1, 0.5, 0.6, 0.4, 0.5, 0.3, 0.35, 0.25, 0.3, 0.2, 0.25, 0.18, 0.22, 0.15, 0.2, 0.14, 0.18, 0.12, 0.16, 0.11, 0.15, 0.1, 0.14, 0.1, 0.13, 0.09, 0.12, 0.09, 0.11, 0.08, 0.1, 0.3, 0.08, 0.09, 0.07, 0.25, 0.08, 0.07, 0.2, 0.07, 0.06, 0.2, 0.065, 0.06, 0.18, 0.055, 0.05, 0.15, 0.05, 0.045, 0.12, 0.045, 0.04, 0.1, 0.04, 0.035, 0.09, 0.035, 0.03, 0.08, 0.03, 0.03, 0.05, 0.028],
            [1, 0.3, 0.15, 0.1, 0.08, 0.06, 0.05, 0.04, 0.035, 0.03, 0.028, 0.025, 0.022, 0.02, 0.019, 0.018, 0.017, 0.016, 0.015, 0.014, 0.013, 0.012, 0.012, 0.011, 0.011, 0.01, 0.03, 0.01, 0.009, 0.009, 0.025, 0.0085, 0.008, 0.02, 0.0078, 0.0075, 0.018, 0.007, 0.0068, 0.015, 0.0065, 0.006, 0.014, 0.006, 0.0058, 0.012, 0.0055, 0.0052, 0.01, 0.005, 0.0048, 0.009, 0.0046, 0.0045, 0.008, 0.0043, 0.0042, 0.007, 0.004, 0.004, 0.0065, 0.0038, 0.0036, 0.0035],
            [1, 1.5, 2, 1.8, 1.6, 1.7, 1.5, 1.4, 1.6, 1.3, 1.5, 1.2, 1.4, 1.2, 1.3, 1.1, 1.3, 1.1, 1.2, 1, 1.2, 1, 1.1, 1, 1.1, 0.95, 1, 0.9, 1, 0.9, 1, 0.9, 0.95, 0.85, 0.9, 0.85, 0.9, 0.8, 0.9, 0.8, 2.5, 0.8, 0.85, 3, 0.8, 2, 0.8, 0.75, 2.2, 0.75, 0.7, 1.8, 0.7, 0.7, 1.6, 0.65, 0.65, 1.4, 0.6, 0.6, 1.2, 0.6, 0.55, 0.55],
            [1, 0.2, 0.05, 0.02, 0.012, 0.009, 0.008, 0.007, 0.006, 0.0055, 0.005, 0.0048, 0.0045, 0.0043, 0.004, 0.0038, 0.0036, 0.0035, 0.0033, 0.0032, 0.003, 0.0029, 0.0028, 0.0027, 0.0026, 0.0025, 0.006, 0.0024, 0.0023, 0.005, 0.0022, 0.0021, 0.0045, 0.002, 0.002, 0.004, 0.0019, 0.0018, 0.0035, 0.0017, 0.0017, 0.003, 0.0016, 0.0015, 0.003, 0.0015, 0.0014, 0.0025, 0.0014, 0.0013, 0.0022, 0.0013, 0.0012, 0.002, 0.0012, 0.0011, 0.0018, 0.0011, 0.001, 0.0016, 0.001, 0.001, 0.0013, 0.0009],
            [1, 0.7, 0.9, 0.6, 0.8, 0.55, 0.7, 0.5, 0.6, 0.45, 0.55, 0.4, 0.5, 0.4, 0.45, 0.35, 0.42, 0.33, 0.4, 0.3, 0.38, 0.3, 0.36, 0.28, 0.35, 0.27, 0.33, 0.26, 0.32, 0.25, 0.3, 0.25, 0.8, 0.24, 0.28, 0.23, 0.6, 0.22, 0.26, 0.21, 0.25, 0.5, 0.2, 0.22, 0.19, 0.45, 0.18, 0.2, 0.17, 0.4, 0.16, 0.18, 0.15, 0.35, 0.15, 0.16, 0.14, 0.3, 0.13, 0.14, 0.12, 0.25, 0.12, 0.11],
            [1, 0.4, 0.2, 0.15, 0.12, 0.1, 0.09, 0.08, 0.07, 0.065, 0.06, 0.055, 0.05, 0.048, 0.045, 0.043, 0.04, 0.12, 0.038, 0.036, 0.035, 0.1, 0.034, 0.033, 0.032, 0.08, 0.03, 0.03, 0.029, 0.07, 0.028, 0.027, 0.026, 0.06, 0.025, 0.025, 0.024, 0.05, 0.023, 0.022, 0.022, 0.045, 0.021, 0.02, 0.02, 0.04, 0.019, 0.018, 0.018, 0.035, 0.017, 0.017, 0.016, 0.03, 0.016, 0.015, 0.015, 0.025, 0.014, 0.014, 0.013, 0.02, 0.013, 0.012],
            [1, 0.1, 0.04, 0.025, 0.02, 0.016, 0.014, 0.012, 0.011, 0.01, 0.009, 0.0085, 0.008, 0.0078, 0.0075, 0.02, 0.007, 0.0068, 0.0065, 0.015, 0.0062, 0.006, 0.0058, 0.012, 0.0056, 0.0055, 0.0053, 0.01, 0.0052, 0.005, 0.0049, 0.009, 0.0048, 0.0047, 0.0046, 0.008, 0.0045, 0.0044, 0.0043, 0.0075, 0.0042, 0.0041, 0.004, 0.007, 0.0039, 0.0038, 0.0037, 0.0065, 0.0036, 0.0035, 0.0034, 0.006, 0.0033, 0.0032, 0.0031, 0.0055, 0.003, 0.003, 0.0029, 0.005, 0.0028, 0.0027, 0.0026, 0.0025],
            [1, 2, 3, 2.5, 3, 2.2, 2.8, 2, 2.6, 1.9, 2.5, 1.8, 2.4, 1.8, 2.3, 1.7, 2.2, 1.7, 2.1, 1.6, 2, 1.6, 2, 1.5, 1.9, 1.5, 1.8, 1.5, 1.8, 1.4, 1.7, 1.4, 1.6, 1.4, 1.6, 1.3, 1.5, 1.3, 1.5, 1.2, 1.4, 1.3, 4, 1.3, 1.2, 3.5, 1.2, 1.1, 3, 1.1, 1.1, 2.5, 1.05, 1, 2.2, 1, 1, 2, 0.95, 0.95, 1.8, 0.9, 0.9, 0.85],
            [1, 0.6, 0.4, 0.35, 0.3, 0.28, 0.25, 0.23, 0.22, 0.2, 0.19, 0.18, 0.17, 0.16, 0.16, 0.15, 0.45, 0.14, 0.14, 0.13, 0.35, 0.13, 0.12, 0.12, 0.3, 0.11, 0.11, 0.1, 0.25, 0.1, 0.095, 0.09, 0.22, 0.09, 0.085, 0.085, 0.2, 0.08, 0.08, 0.075, 0.18, 0.075, 0.07, 0.07, 0.16, 0.065, 0.065, 0.06, 0.14, 0.06, 0.058, 0.056, 0.12, 0.055, 0.053, 0.05, 0.1, 0.05, 0.048, 0.046, 0.09, 0.045, 0.043, 0.04],
            [1, 0.25, 0.08, 0.04, 0.025, 0.018, 0.014, 0.012, 0.01, 0.009, 0.008, 0.0075, 0.007, 0.0065, 0.006, 0.0057, 0.0055, 0.0052, 0.005, 0.0048, 0.0046, 0.0044, 0.0042, 0.004, 0.0039, 0.0038, 0.0036, 0.0035, 0.0034, 0.0033, 0.0032, 0.0031, 0.003, 0.0029, 0.0028, 0.0028, 0.0027, 0.0026, 0.0025, 0.0025, 0.0024, 0.0023, 0.0023, 0.0022, 0.0021, 0.0021, 0.002, 0.002, 0.0019, 0.0019, 0.0018, 0.0018, 0.0017, 0.0017, 0.0016, 0.0016, 0.0016, 0.0015, 0.0015, 0.0014, 0.0014, 0.0014, 0.0013, 0.0013]
        ];

        const TEAL = 'rgba(12, 92, 128, 0.85)';
        const TEAL_LIGHT = 'rgba(40, 122, 160, 0.85)';
        const GREEN = 'rgba(160, 193, 112, 0.8)';
        const ORANGE = 'rgba(226, 136, 60, 0.9)';
        const YELLOW = 'rgba(242, 205, 140, 1)';
        const RED = '#f06a43';

        function toPoints(values, step) {
            return values.map((v, i) => ({ x: i * step, y: v }));
        }

        function lineSet(points, color, order, width) {
            return {
                data: points,
                borderColor: color,
                borderWidth: width || 1,
                pointRadius: 0,
                borderJoinStyle: 'round',
                fill: false,
                tension: 0,
                order: order
            };
        }

        const datasets = [];
        greenLines.forEach(v => datasets.push(lineSet(toPoints(v, STEP_DAYS), GREEN, 5)));
        greenSpikeLines.forEach(v => datasets.push(lineSet(toPoints(v, FINE_STEP_DAYS), GREEN, 5)));
        tealLines.forEach(v => datasets.push(lineSet(toPoints(v, STEP_DAYS), TEAL, 4)));
        tealNoisyLines.forEach(v => datasets.push(lineSet(toPoints(v, FINE_STEP_DAYS), TEAL, 4)));
        tealHighLines.forEach(v => datasets.push(lineSet(toPoints(v, STEP_DAYS), TEAL_LIGHT, 4)));
        orangeLines.forEach(v => datasets.push(lineSet(toPoints(v, STEP_DAYS), ORANGE, 3)));
        datasets.push(lineSet(toPoints(yellowValues, STEP_DAYS), YELLOW, 2));
        datasets.push(lineSet(redDays.map((d, i) => ({ x: d, y: redValues[i] })), RED, 1, 1.8));

        const ctx = document.getElementById('priceChart').getContext('2d');

        new Chart(ctx, {
            type: 'line',
            data: { datasets: datasets },
            options: {
                responsive: false,
                animation: false,
                layout: {
                    padding: { left: 104, right: 78, top: 23, bottom: 0 }
                },
                plugins: {
                    legend: { display: false },
                    tooltip: { enabled: false }
                },
                scales: {
                    x: {
                        type: 'linear',
                        min: 0,
                        max: 2270,
                        afterBuildTicks: scale => {
                            scale.ticks = xTicks.map(v => ({ value: v }));
                        },
                        afterFit: scale => {
                            scale.height = 39;
                        },
                        ticks: {
                            color: '#555',
                            padding: 8,
                            maxRotation: 0,
                            font: { family: 'Open Sans', size: 8 },
                            callback: value => String(value)
                        },
                        grid: {
                            color: '#eeeeee',
                            drawTicks: false
                        },
                        border: { display: false },
                        title: {
                            display: true,
                            text: 'Days since launch',
                            color: '#444',
                            padding: { top: 4, bottom: 3 },
                            font: { family: 'Open Sans', size: 9 }
                        }
                    },
                    y: {
                        type: 'logarithmic',
                        min: 0.0000324,
                        max: 39800,
                        afterBuildTicks: scale => {
                            scale.ticks = yTickValues.map(v => ({ value: v }));
                        },
                        afterFit: scale => {
                            scale.width = 32;
                        },
                        ticks: {
                            color: '#555',
                            padding: 8,
                            font: { family: 'Open Sans', size: 8 },
                            callback: (value) => {
                                const i = yTickValues.indexOf(value);
                                return i >= 0 ? yTickLabels[i] : '';
                            }
                        },
                        grid: {
                            color: '#eeeeee',
                            drawTicks: false
                        },
                        border: {
                            display: true,
                            color: '#555',
                            width: 1.5
                        },
                        title: {
                            display: true,
                            text: 'Price Multiplier',
                            color: '#444',
                            padding: { top: 2, bottom: 2 },
                            font: { family: 'Open Sans', size: 9 }
                        }
                    }
                }
            }
        });
    </script>
</body>
</html>
